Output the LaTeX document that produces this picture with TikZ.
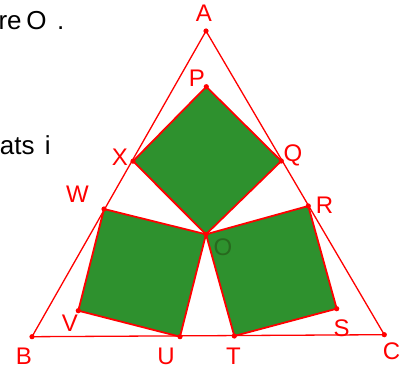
\documentclass[tikz,border=0pt]{standalone}
\usepackage{fontspec}
\setmainfont{Liberation Sans}
\usetikzlibrary{positioning,calc}
\definecolor{sqgreen}{RGB}{46,145,46}
\definecolor{ogreen}{RGB}{40,105,30}

\begin{document}
\begin{tikzpicture}[x=1pt, y=-1pt,
  lbl/.style={red, font=\fontsize{24}{28}\selectfont, inner sep=0pt},
  txt/.style={black, font=\fontsize{26}{30}\selectfont, inner sep=0pt},
  sq/.style={fill=sqgreen, draw=red, line width=1.8pt, line join=round},
  tri/.style={draw=red, line width=1.3pt}]
% Picture frame (pixel units, y downwards)
\useasboundingbox (0,0) rectangle (406,371);
\clip (0,0) rectangle (406,371);
% Triangle vertices
\coordinate (A) at (206,31);
\coordinate (B) at (32,336.7);
\coordinate (C) at (384.3,334.7);
% Common corner of the three squares
\coordinate (O) at (206,234.3);
% Top square
\coordinate (P) at (206.3,86.7);
\coordinate (Q) at (281.3,161);
\coordinate (X) at (133,161.2);
% Left square
\coordinate (W) at (104,209);
\coordinate (V) at (78.3,310.7);
\coordinate (U) at (180,336.7);
% Right square
\coordinate (R) at (308.3,206);
\coordinate (S) at (336.7,308.7);
\coordinate (T) at (234.3,336);
% Squares
\draw[sq] (P) -- (Q) -- (O) -- (X) -- cycle;
\draw[sq] (W) -- (O) -- (U) -- (V) -- cycle;
\draw[sq] (O) -- (R) -- (S) -- (T) -- cycle;
% Triangle
\draw[tri] (A) -- (B) -- (C) -- cycle;
% Points
\foreach \p in {A,B,C,O,P,Q,X,W,V,U,R,S,T} {
  \fill[red] (\p) circle (2.6pt);
}
% Labels
\node[lbl] (lA) at (204,13) {A};
\node[lbl] (lP) at (197,78) {P};
\node[lbl] (lX) at (120,157.5) {X};
\node[lbl] (lQ) at (293,155) {Q};
\node[lbl] (lW) at (77.5,194.5) {W};
\node[lbl] (lR) at (324.5,205) {R};
\node[lbl, ogreen] (lO) at (223,247) {O};
\node[lbl] (lV) at (70,323) {V};
\node[lbl] (lS) at (341.5,328) {S};
\node[lbl] (lB) at (24,356.5) {B};
\node[lbl] (lU) at (166,356.5) {U};
\node[lbl] (lT) at (233.5,356.5) {T};
\node[lbl] (lC) at (391.5,351.5) {C};
% Cut-off text on the left
\node[txt, anchor=base west] (t1) at (-1.7,29.5) {re\hspace{0.18em}O\hspace{0.41em}.};
\node[txt, anchor=base east] (t2) at (51,155) {ats\hspace{0.4em}i};
\end{tikzpicture}
\end{document}
